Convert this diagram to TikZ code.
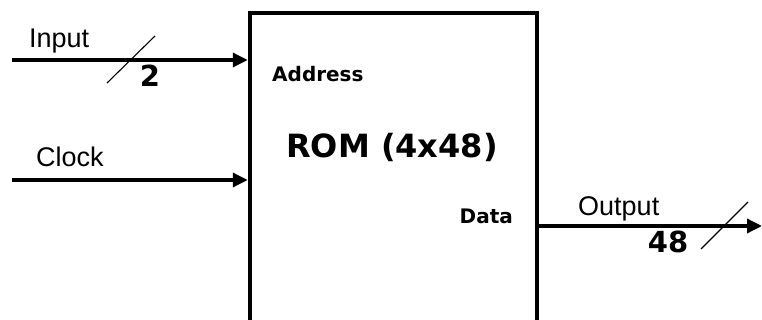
\documentclass[tikz,border=0pt]{standalone}
\usepackage{fontspec}
\setmainfont{Liberation Sans}
\newfontfamily\romfont{DejaVu Sans}
\usetikzlibrary{arrows.meta}
\tikzstyle{sig}=[line width=3.4pt,-{Triangle[length=15pt,width=14pt]}]
\tikzstyle{slash}=[line width=1.1pt]
\tikzstyle{lbl}=[font=\fontsize{27}{30}\selectfont,inner sep=0pt]
\tikzstyle{port}=[font=\romfont\bfseries\fontsize{20}{24}\selectfont,inner sep=0pt]
\tikzstyle{buswidth}=[font=\romfont\bfseries\fontsize{29}{32}\selectfont,inner sep=0pt]

\begin{document}
\begin{tikzpicture}[x=1pt,y=-1pt]
\useasboundingbox (0,0) rectangle (762,320);
\node[draw, line width=4.5pt, minimum width=287pt, minimum height=330pt] (Rom) at (393.5,178) {};
\node[port, anchor=base west] (Addr) at (272,82) {Address};
\node[font=\romfont\bfseries\fontsize{32}{36}\selectfont, inner sep=0pt, anchor=base] (Title) at (392,158) {ROM (4x48)};
\node[port, anchor=base east] (Data) at (513,224) {Data};
\coordinate (In) at (12,60);
\coordinate (Clk) at (12,180);
\coordinate (Out) at (762,226);
\node[lbl, anchor=base west] (InLbl) at (29,48) {Input};
\node[lbl, anchor=base west] (ClkLbl) at (36,167) {Clock};
\node[lbl, anchor=base west] (OutLbl) at (578,215) {Output};
\node[buswidth, anchor=base] (InW) at (150,87) {2};
\node[buswidth, anchor=base] (OutW) at (668,252) {48};
\draw[sig] (In) -- (In -| Rom.west);
\draw[sig] (Clk) -- (Clk -| Rom.west);
\draw[sig] (Out -| Rom.east) -- (Out);
\draw[slash] (107,83) -- (155,36);
\draw[slash] (701,249) -- (748,202);
\end{tikzpicture}
\end{document}
